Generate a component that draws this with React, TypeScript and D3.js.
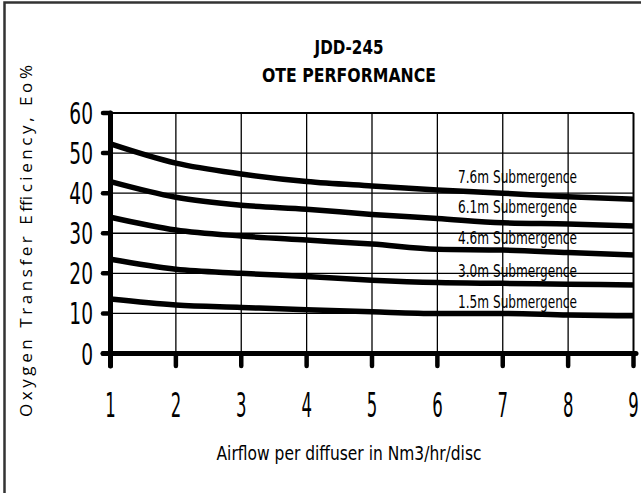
import React, { useEffect, useRef } from 'react';
import * as d3 from 'd3';

const airflow = [1, 2, 3, 4, 5, 6, 7, 8, 9];
const sub76 = [52.3, 47.5, 44.8, 42.9, 41.8, 40.8, 40.0, 39.1, 38.5];
const sub61 = [42.9, 39.0, 37.0, 36.0, 34.7, 33.7, 32.6, 32.3, 31.8];
const sub46 = [34.0, 30.8, 29.3, 28.3, 27.3, 26.0, 25.8, 25.2, 24.6];
const sub30 = [23.5, 21.0, 20.0, 19.2, 18.3, 17.7, 17.5, 17.3, 17.1];
const sub15 = [13.6, 12.1, 11.5, 10.9, 10.4, 10.0, 10.0, 9.6, 9.4];
const seriesNames = ['7.6m Submergence', '6.1m Submergence', '4.6m Submergence', '3.0m Submergence', '1.5m Submergence'];
const labelValues = [42.5, 35.0, 27.3, 19.1, 11.4];
const yTicks = [0, 10, 20, 30, 40, 50, 60];

const font = "'DejaVu Sans', sans-serif";

const App: React.FC = () => {
  const ref = useRef<SVGSVGElement>(null);

  useEffect(() => {
    if (!ref.current) return;
    const svg = d3.select(ref.current);
    svg.selectAll('*').remove();

    const x = d3.scaleLinear().domain([1, 9]).range([110.5, 633.5]);
    const y = d3.scaleLinear().domain([0, 60]).range([353.5, 113]);

    // outer frame
    svg.append('rect')
      .attr('x', 4.5).attr('y', 2.5).attr('width', 700).attr('height', 600)
      .attr('fill', 'white').attr('stroke', '#333').attr('stroke-width', 2.5);

    // title (condensed bold)
    const title = svg.append('g').attr('font-family', font).attr('font-weight', 'bold')
      .attr('font-size', 19).attr('text-anchor', 'middle');
    title.append('text').attr('x', 349).attr('y', 54)
      .attr('textLength', 69).attr('lengthAdjust', 'spacingAndGlyphs').text('JDD-245');
    title.append('text').attr('x', 349).attr('y', 82)
      .attr('textLength', 174).attr('lengthAdjust', 'spacingAndGlyphs').text('OTE PERFORMANCE');

    // grid
    svg.append('g').selectAll('line')
      .data(airflow.slice(1, -1)).enter().append('line')
      .attr('x1', d => x(d)).attr('x2', d => x(d))
      .attr('y1', y(60)).attr('y2', y(0))
      .attr('stroke', '#000').attr('stroke-width', 1.3);
    svg.append('g').selectAll('line')
      .data(yTicks.slice(1, -1)).enter().append('line')
      .attr('x1', x(1)).attr('x2', x(9))
      .attr('y1', d => y(d)).attr('y2', d => y(d))
      .attr('stroke', '#000').attr('stroke-width', 1.3);
    svg.append('line').attr('x1', x(1)).attr('x2', x(9)).attr('y1', y(60)).attr('y2', y(60))
      .attr('stroke', '#000').attr('stroke-width', 2);
    svg.append('line').attr('x1', x(9)).attr('x2', x(9)).attr('y1', y(60)).attr('y2', y(0))
      .attr('stroke', '#000').attr('stroke-width', 2);

    // series labels
    svg.append('g').selectAll('text')
      .data(seriesNames).enter().append('text')
      .attr('x', 458).attr('y', (d, i) => y(labelValues[i]))
      .attr('font-family', font).attr('font-size', 18)
      .attr('textLength', 119).attr('lengthAdjust', 'spacingAndGlyphs')
      .text(d => d);

    // curves
    const line = d3.line<number>()
      .x((d, i) => x(airflow[i]))
      .y(d => y(d))
      .curve(d3.curveMonotoneX);
    svg.append('g').selectAll('path')
      .data([sub76, sub61, sub46, sub30, sub15]).enter().append('path')
      .attr('d', d => line(d))
      .attr('fill', 'none').attr('stroke', '#000').attr('stroke-width', 5.5);

    // axes
    svg.append('line').attr('x1', x(1)).attr('x2', x(1)).attr('y1', y(60)).attr('y2', 366)
      .attr('stroke', '#000').attr('stroke-width', 5).attr('stroke-linecap', 'round');
    svg.append('line').attr('x1', 103).attr('x2', 636).attr('y1', y(0)).attr('y2', y(0))
      .attr('stroke', '#000').attr('stroke-width', 5).attr('stroke-linecap', 'round');
    svg.append('g').selectAll('line')
      .data(yTicks).enter().append('line')
      .attr('x1', 103).attr('x2', x(1))
      .attr('y1', d => y(d)).attr('y2', d => y(d))
      .attr('stroke', '#000').attr('stroke-width', 4.5).attr('stroke-linecap', 'round');
    svg.append('g').selectAll('line')
      .data(airflow).enter().append('line')
      .attr('x1', d => x(d)).attr('x2', d => x(d))
      .attr('y1', y(0)).attr('y2', 366)
      .attr('stroke', '#000').attr('stroke-width', 4.5).attr('stroke-linecap', 'round');

    // tick labels, squeezed horizontally
    svg.append('g').selectAll('text')
      .data(yTicks).enter().append('text')
      .attr('transform', d => `translate(93,${y(d) + 11}) scale(0.62,1)`)
      .attr('text-anchor', 'end')
      .attr('font-family', font).attr('font-size', 30)
      .text(d => d);
    svg.append('g').selectAll('text')
      .data(airflow).enter().append('text')
      .attr('transform', d => `translate(${x(d)},417) scale(0.5,1)`)
      .attr('text-anchor', 'middle')
      .attr('font-family', font).attr('font-size', 33)
      .text(d => d);

    // axis titles
    svg.append('text')
      .attr('x', 349).attr('y', 460).attr('text-anchor', 'middle')
      .attr('font-family', font).attr('font-size', 19)
      .attr('textLength', 265).attr('lengthAdjust', 'spacingAndGlyphs')
      .text('Airflow per diffuser in Nm3/hr/disc');
    svg.append('text')
      .attr('transform', 'translate(32,241) rotate(-90)')
      .attr('text-anchor', 'middle')
      .attr('font-family', "'Open Sans', sans-serif").attr('font-size', 17)
      .attr('textLength', 352).attr('lengthAdjust', 'spacing')
      .text('Oxygen Transfer Efficiency, Eo%');
  }, []);

  return (
    <div style={{ position: 'absolute', left: 0, top: 0 }}>
      <svg ref={ref} width={641} height={493} style={{ display: 'block' }} />
    </div>
  );
};

export default App;
